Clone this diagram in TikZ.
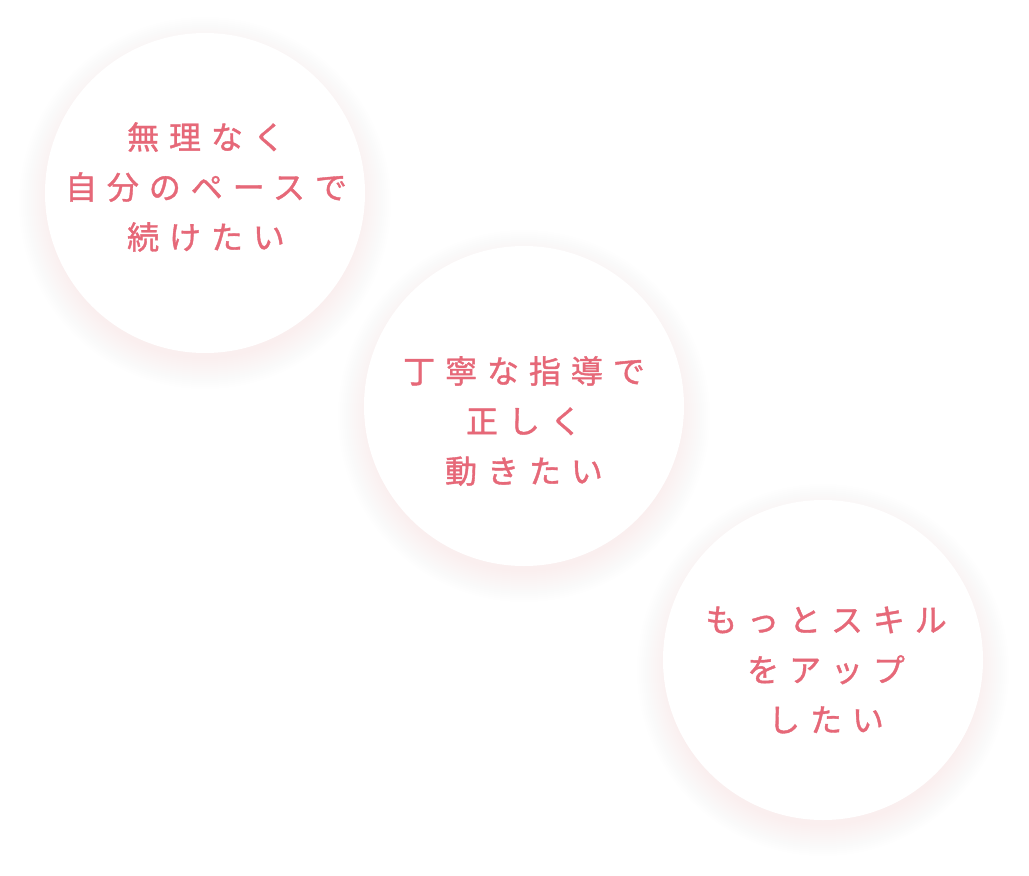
\documentclass[tikz,border=0pt]{standalone}
\usepackage{fontspec}
\newfontfamily\jpfont[LetterSpace=31, FakeBold=1.2]{Noto Sans CJK JP}
\definecolor{WishPink}{RGB}{230,104,120}
\definecolor{ShadowPink}{RGB}{250,170,170}
\definecolor{BubbleWhite}{RGB}{255,255,255}

\tikzset{
    bubble/.style={circle, fill=BubbleWhite, minimum size=320pt, inner sep=0pt},
    wish/.style={text=WishPink, align=center, font=\jpfont\fontsize{32}{50}\selectfont}
}

\begin{document}
\begin{tikzpicture}[x=1pt, y=-1pt]
    \useasboundingbox[fill=white] (0,0) rectangle (1029,876);

    % Soft shadows under the bubbles
    \foreach \cx/\cy in {205/193, 524/406, 823/660} {
        \foreach \r in {0,2,...,30} {
            \fill[ShadowPink, opacity=0.005] (\cx,\cy+10) circle (156pt+\r pt);
        }
    }

    % Draw the bubbles
    \node[bubble] (bubbleA) at (205,193) {};
    \node[bubble] (bubbleB) at (524,406) {};
    \node[bubble] (bubbleC) at (823,660) {};

    % Add the wishes
    \node[wish] (wishA) at (206,187) {無理なく\\自分のペースで\\続けたい};
    \node[wish] (wishB) at (524,421) {丁寧な指導で\\正しく\\動きたい};
    \node[wish] (wishC) at (826,670) {もっとスキル\\をアップ\\したい};
\end{tikzpicture}
\end{document}
